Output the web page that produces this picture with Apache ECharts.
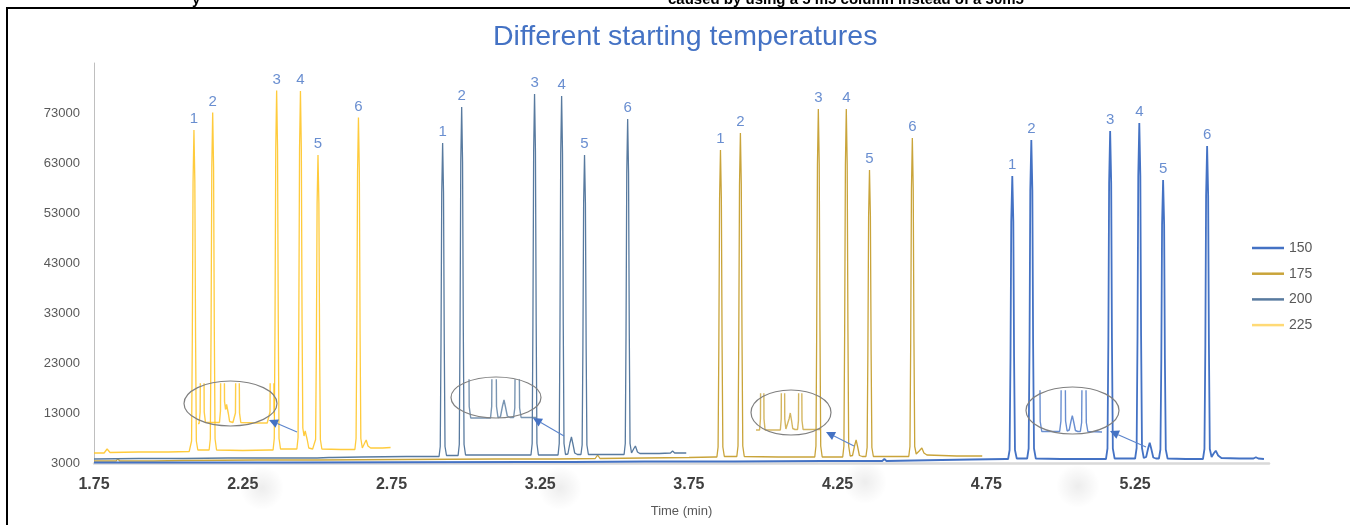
<!DOCTYPE html>
<html><head><meta charset="utf-8">
<script src="https://cdn.jsdelivr.net/npm/echarts@6/dist/echarts.min.js"></script>
<style>html,body{margin:0;padding:0;background:#fff;overflow:hidden}#c{width:1350px;height:525px}</style>
</head><body><div id="c"></div>
<script>
// ---------------- data ----------------
const seriesNames = ['150', '175', '200', '225'];
const xTickLabels = ['1.75', '2.25', '2.75', '3.25', '3.75', '4.25', '4.75', '5.25'];
const yTickLabels = ['3000', '13000', '23000', '33000', '43000', '53000', '63000', '73000'];
const peakNumbers = ['1', '2', '3', '4', '5', '6'];

const trace225 = [
  [1.750, 5000], [1.784, 5000], [1.794, 5800], [1.804, 5100], [1.90, 5200], [2.00, 5200], [2.070, 5300],
  [2.074, 5300], [2.078, 7400], [2.0805, 27800], [2.083, 59200], [2.086, 69600], [2.089, 59200], [2.0915, 27800], [2.094, 7400], [2.099, 5600],
  [2.120, 5600],
  [2.137, 5600], [2.141, 7800], [2.1435, 29200], [2.146, 62100], [2.149, 73100], [2.152, 62100], [2.1545, 29200], [2.157, 7800], [2.162, 5600],
  [2.25, 5500], [2.340, 5600],
  [2.352, 5600], [2.356, 7900], [2.3585, 31000], [2.361, 65900], [2.364, 77500], [2.367, 65900], [2.3695, 31000], [2.372, 7900], [2.377, 5800],
  [2.420, 5800],
  [2.432, 5800], [2.436, 8100], [2.4385, 31000], [2.441, 65800], [2.444, 77400], [2.447, 65800], [2.4495, 31000], [2.452, 10000], [2.456, 8400],
  [2.460, 9400], [2.463, 9600], [2.467, 7600], [2.472, 6000],
  [2.485, 5800],
  [2.491, 5800], [2.495, 7700], [2.4975, 25800], [2.500, 54900], [2.503, 64600], [2.506, 54900], [2.5085, 25800], [2.511, 7700], [2.516, 5800],
  [2.58, 5700], [2.620, 5700],
  [2.627, 5700], [2.631, 7900], [2.6335, 28800], [2.636, 61300], [2.639, 72100], [2.642, 61300], [2.6445, 28800], [2.647, 7900], [2.652, 6000],
  [2.660, 7000], [2.665, 7600], [2.671, 6400], [2.680, 6000],
  [2.72, 6000], [2.747, 6100]
];

const trace200 = [
  [1.750, 3800], [1.90, 3900], [2.05, 3900], [2.20, 4000], [2.35, 4000], [2.500, 4000], [2.540, 4100],
  [2.546, 4400], [2.552, 4100], [2.65, 4200], [2.80, 4300], [2.900, 4300],
  [2.910, 4300], [2.914, 6300], [2.9165, 26800], [2.919, 57000], [2.922, 67000], [2.925, 57000], [2.9275, 26800], [2.930, 6300], [2.935, 4500],
  [2.960, 4500],
  [2.974, 4500], [2.978, 6700], [2.9805, 29700], [2.983, 63100], [2.986, 74200], [2.989, 63100], [2.9915, 29700], [2.994, 6700], [2.999, 4600],
  [3.10, 4600], [3.207, 4600],
  [3.219, 4600], [3.223, 6900], [3.2255, 30700], [3.228, 65300], [3.231, 76800], [3.234, 65300], [3.2365, 30700], [3.239, 6900], [3.244, 4600],
  [3.298, 4600],
  [3.310, 4600], [3.314, 6900], [3.3165, 30600], [3.319, 64900], [3.322, 76400], [3.325, 64900], [3.3275, 30600], [3.330, 6900], [3.335, 4700],
  [3.343, 4800], [3.350, 7000], [3.355, 8200], [3.360, 6800], [3.366, 5000],
  [3.375, 4700],
  [3.387, 4700], [3.391, 6600], [3.3935, 25800], [3.396, 54900], [3.399, 64600], [3.402, 54900], [3.4045, 25800], [3.407, 6600], [3.412, 4700],
  [3.47, 4700], [3.520, 4700],
  [3.532, 4700], [3.536, 6900], [3.5385, 28700], [3.541, 61000], [3.544, 71800], [3.547, 61000], [3.5495, 28700], [3.552, 6900], [3.557, 5000],
  [3.564, 5800], [3.570, 6400], [3.577, 5200], [3.585, 4900],
  [3.65, 4900], [3.688, 5000], [3.695, 5400], [3.702, 5000], [3.741, 5000]
];

const trace175 = [
  [1.750, 3400], [1.825, 3400], [1.830, 3900], [1.836, 3400], [1.95, 3400], [2.05, 3500], [2.30, 3600],
  [2.50, 3600], [2.80, 3700], [3.10, 3800], [3.30, 3800], [3.435, 3900], [3.443, 4600], [3.451, 3900],
  [3.60, 4000], [3.75, 4100], [3.835, 4200],
  [3.844, 4200], [3.848, 6200], [3.8505, 26200], [3.853, 55800], [3.856, 65600], [3.859, 55800], [3.8615, 26200], [3.864, 6200], [3.869, 4300],
  [3.900, 4300],
  [3.911, 4300], [3.915, 6400], [3.9175, 27600], [3.920, 58700], [3.923, 69000], [3.926, 58700], [3.9285, 27600], [3.931, 6400], [3.936, 4300],
  [4.05, 4200], [4.161, 4200],
  [4.173, 4200], [4.177, 6400], [4.1795, 29500], [4.182, 62700], [4.185, 73800], [4.188, 62700], [4.1905, 29500], [4.193, 6400], [4.198, 4200],
  [4.255, 4200],
  [4.267, 4200], [4.271, 6400], [4.2735, 29500], [4.276, 62700], [4.279, 73800], [4.282, 62700], [4.2845, 29500], [4.287, 6400], [4.292, 4400],
  [4.300, 4500], [4.307, 6500], [4.312, 7600], [4.317, 6300], [4.323, 4500],
  [4.333, 4300],
  [4.345, 4300], [4.349, 6100], [4.3515, 24600], [4.354, 52400], [4.357, 61600], [4.360, 52400], [4.3625, 24600], [4.365, 6100], [4.370, 4300],
  [4.43, 4300], [4.477, 4300],
  [4.489, 4300], [4.493, 6300], [4.4955, 27200], [4.498, 57800], [4.501, 68000], [4.504, 57800], [4.5065, 27200], [4.509, 6300], [4.514, 4800],
  [4.524, 5400], [4.533, 6000], [4.540, 5000], [4.550, 4600],
  [4.65, 4400], [4.736, 4400]
];

const trace150 = [
  [1.750, 3100], [2.00, 3100], [2.40, 3100], [2.80, 3150], [3.20, 3200], [3.349, 3200], [3.355, 3500],
  [3.361, 3200], [3.60, 3300], [3.90, 3300], [4.20, 3400], [4.400, 3400], [4.407, 3800], [4.414, 3400],
  [4.60, 3600], [4.70, 3700], [4.815, 3800],
  [4.823, 3800], [4.828, 5600], [4.831, 24200], [4.8335, 51300], [4.837, 60400], [4.8405, 51300], [4.843, 24200], [4.846, 5600], [4.852, 3900],
  [4.875, 3900],
  [4.887, 3900], [4.892, 5900], [4.895, 27000], [4.8975, 57500], [4.901, 67600], [4.9045, 57500], [4.907, 27000], [4.910, 5900], [4.916, 3900],
  [5.00, 3800], [5.140, 3800],
  [5.152, 3800], [5.157, 5900], [5.160, 27800], [5.1625, 59000], [5.166, 69400], [5.1695, 59000], [5.172, 27800], [5.175, 5900], [5.181, 3900],
  [5.240, 3900],
  [5.250, 3900], [5.255, 6000], [5.258, 28400], [5.2605, 60400], [5.264, 71000], [5.2675, 60400], [5.270, 28400], [5.273, 6000], [5.279, 4000],
  [5.287, 4200], [5.294, 6000], [5.299, 7060], [5.304, 5900], [5.311, 4100],
  [5.320, 3900],
  [5.330, 3900], [5.335, 5700], [5.338, 23800], [5.3405, 50700], [5.344, 59600], [5.3475, 50700], [5.350, 23800], [5.353, 5700], [5.359, 3900],
  [5.42, 3800], [5.470, 3800],
  [5.478, 3800], [5.483, 5800], [5.486, 26600], [5.4885, 56400], [5.492, 66400], [5.4955, 56400], [5.498, 26600], [5.501, 5800], [5.507, 4200],
  [5.514, 4900], [5.521, 5460], [5.529, 4500], [5.540, 4000],
  [5.60, 3900], [5.648, 3900], [5.656, 4140], [5.664, 3900], [5.683, 3800]
];

// apex of each numbered peak
const peaks225 = [[2.086, 69600], [2.149, 73100], [2.364, 77500], [2.444, 77400], [2.503, 64600], [2.639, 72100]];
const peaks200 = [[2.922, 67000], [2.986, 74200], [3.231, 76800], [3.322, 76400], [3.399, 64600], [3.544, 71800]];
const peaks175 = [[3.856, 65600], [3.923, 69000], [4.185, 73800], [4.279, 73800], [4.357, 61600], [4.501, 68000]];
const peaks150 = [[4.837, 60400], [4.901, 67600], [5.166, 69400], [5.264, 71000], [5.344, 59600], [5.492, 66400]];

// ---------------- styling / layout ----------------
const FONT = 'Liberation Sans, Arial, sans-serif';
const colors = { '150': '#4472C4', '175': '#C9A43A', '200': '#587A9F', '225': '#FFC21A' };
const widths = { '150': 1.8, '175': 1.3, '200': 1.3, '225': 1.3 };
const traces = { '150': trace150, '175': trace175, '200': trace200, '225': trace225 };

// inset (magnified ellipse) windows: grid rect + axis window
const insets = [
  { s: '225', left: 199, top: 384, width: 74, height: 42, xmin: 2.3515, xmax: 2.6428, ymin: 5100, ymax: 13500 },
  { s: '200', left: 468, top: 380, width: 66, height: 40, xmin: 3.235, xmax: 3.455, ymin: 4200, ymax: 12200 },
  { s: '175', left: 757, top: 394, width: 61, height: 41, xmin: 4.1614, xmax: 4.4374, ymin: 3200, ymax: 11400 },
  { s: '150', left: 1040, top: 391, width: 60, height: 43, xmin: 5.1742, xmax: 5.4059, ymin: 3400, ymax: 12000 }
];
const ellipses = [
  { cx: 230.5, cy: 403.5, rx: 46.5, ry: 22.5 },
  { cx: 496, cy: 397.5, rx: 45, ry: 20.5 },
  { cx: 791, cy: 412.5, rx: 40, ry: 22.5 },
  { cx: 1072.5, cy: 410.5, rx: 46.5, ry: 23.5 }
];
const arrows = [
  { x1: 297, y1: 432, x2: 269, y2: 420 },
  { x1: 564, y1: 436, x2: 533, y2: 418 },
  { x1: 854, y1: 446, x2: 826, y2: 432 },
  { x1: 1146, y1: 447, x2: 1110, y2: 431 }
];

const grids = [{ left: 94, right: 81, top: 63, bottom: 62 }];
const xAxes = [{
  type: 'value', min: 1.75, max: 5.7, interval: 0.25,
  name: 'Time (min)', nameLocation: 'middle', nameGap: 42,
  nameTextStyle: { color: '#595959', fontSize: 13, fontFamily: FONT },
  axisLine: { show: true, lineStyle: { color: '#D9D9D9', width: 2.5 } },
  axisTick: { show: false }, splitLine: { show: false },
  axisLabel: {
    margin: 14, color: '#404040', fontSize: 16, fontWeight: 'bold', fontFamily: FONT,
    formatter: v => { const s = (Math.round(v * 100) / 100).toFixed(2); return xTickLabels.includes(s) ? s : ''; }
  }
}];
const yAxes = [{
  type: 'value', min: 3000, max: 83000, interval: 1000,
  axisLine: { show: true, lineStyle: { color: '#BFBFBF', width: 1 } },
  axisTick: { show: false }, splitLine: { show: false },
  axisLabel: {
    margin: 14, color: '#595959', fontSize: 13, fontFamily: FONT,
    formatter: v => { const s = String(Math.round(v)); return yTickLabels.includes(s) ? s : ''; }
  }
}];

const series = [];
seriesNames.forEach(name => {
  series.push({
    name, type: 'line', data: traces[name], symbol: 'none', clip: true, silent: true,
    lineStyle: { color: colors[name], width: widths[name], opacity: name === '225' ? 0.85 : 1 },
    itemStyle: { color: colors[name], opacity: name === '225' ? 0.6 : 1 }, z: name === '150' ? 4 : 3
  });
});

insets.forEach((b, i) => {
  const idx = i + 1;
  grids.push({ left: b.left, top: b.top, width: b.width, height: b.height });
  xAxes.push({ type: 'value', gridIndex: idx, min: b.xmin, max: b.xmax, show: false });
  yAxes.push({ type: 'value', gridIndex: idx, min: b.ymin, max: b.ymax, show: false });
  series.push({
    name: b.s + ' inset', type: 'line', xAxisIndex: idx, yAxisIndex: idx, data: traces[b.s],
    symbol: 'none', clip: true, silent: true,
    lineStyle: { color: colors[b.s], width: 1.4, opacity: 0.8 }, z: 5
  });
});

const labelData = [];
[peaks225, peaks200, peaks175, peaks150].forEach(arr => {
  arr.forEach((p, k) => labelData.push([p[0], p[1], peakNumbers[k]]));
});
series.push({
  name: 'peak labels', type: 'scatter', data: labelData, symbolSize: 1, silent: true,
  itemStyle: { color: 'rgba(0,0,0,0)' }, z: 6,
  label: {
    show: true, position: 'top', distance: 3, color: '#4472C4', fontSize: 15, fontFamily: FONT,
    formatter: p => p.value[2]
  }
});

const graphic = [];
graphic.push({ type: 'rect', shape: { x: 7, y: 8, width: 1400, height: 600 }, style: { fill: 'none', stroke: '#000', lineWidth: 2 }, z: 100 });
graphic.push({ type: 'text', x: 192, y: 7, style: { text: 'y', font: 'bold 15px ' + FONT, fill: '#000', verticalAlign: 'bottom' }, z: 100 });
graphic.push({ type: 'text', x: 668, y: 7, style: { text: 'caused by using a 5 m5 column instead of a 30m5', font: 'bold 15px ' + FONT, fill: '#000', verticalAlign: 'bottom' }, z: 100 });
[[262, 488], [560, 488], [865, 482], [1078, 486]].forEach(c => {
  graphic.push({
    type: 'ellipse', shape: { cx: c[0], cy: c[1], rx: 34, ry: 22 }, z: 0, silent: true,
    style: { fill: { type: 'radial', x: 0.5, y: 0.5, r: 0.5, colorStops: [{ offset: 0, color: 'rgba(0,0,0,0.07)' }, { offset: 1, color: 'rgba(0,0,0,0)' }] } }
  });
});
ellipses.forEach(e => {
  graphic.push({ type: 'ellipse', shape: e, style: { fill: 'none', stroke: '#808080', lineWidth: 1.2 }, z: 50 });
});
arrows.forEach(a => {
  const dx = a.x2 - a.x1, dy = a.y2 - a.y1, L = Math.hypot(dx, dy);
  const ux = dx / L, uy = dy / L, nx = -uy, ny = ux, hl = 9, hw = 4.5;
  const bx = a.x2 - ux * hl, by = a.y2 - uy * hl;
  graphic.push({ type: 'line', shape: { x1: a.x1, y1: a.y1, x2: bx, y2: by }, style: { stroke: '#5B84CC', lineWidth: 1.1 }, z: 50 });
  graphic.push({ type: 'polygon', shape: { points: [[a.x2, a.y2], [bx + nx * hw, by + ny * hw], [bx - nx * hw, by - ny * hw]] }, style: { fill: '#4472C4' }, z: 50 });
});

const option = {
  animation: false,
  backgroundColor: '#fff',
  title: {
    text: 'Different starting temperatures', left: 488, top: 18,
    textStyle: { color: '#4472C4', fontSize: 28.5, fontWeight: 'normal', fontFamily: FONT }
  },
  legend: {
    data: seriesNames, orient: 'vertical', left: 1247, top: 236,
    icon: 'rect', itemWidth: 32, itemHeight: 2.5, itemGap: 11.7,
    textStyle: { color: '#595959', fontSize: 14, fontFamily: FONT }
  },
  grid: grids, xAxis: xAxes, yAxis: yAxes, series, graphic
};
const chart = echarts.init(document.getElementById('c'), null, { renderer: 'canvas' });
chart.setOption(option);
</script></body></html>
